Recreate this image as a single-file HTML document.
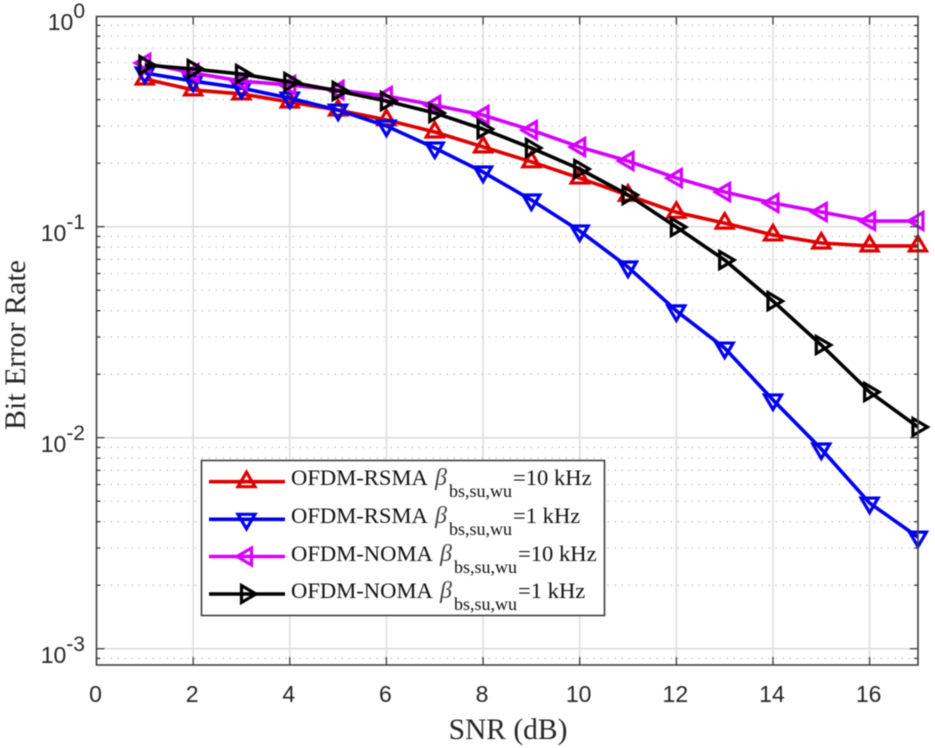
<!DOCTYPE html>
<html>
<head>
<meta charset="utf-8">
<title>Bit Error Rate vs SNR</title>
<style>
html,body{margin:0;padding:0;background:#fff;width:935px;height:748px;overflow:hidden}
svg{display:block;filter:blur(0.45px)}
.tick{font-family:"Liberation Sans",sans-serif;fill:#262626;font-size:23px}
.title{font-family:"Liberation Serif",serif;fill:#262626}
.leg{font-family:"Liberation Serif",serif;fill:#111;font-size:22.6px}
</style>
</head>
<body>
<svg id="chart" xmlns="http://www.w3.org/2000/svg" width="935" height="748" viewBox="0 0 935 748">
  <rect x="0" y="0" width="935" height="748" fill="#fff"/>
  <g id="grid"></g>
  <g id="series"></g>
  <g id="axes"></g>
  <text class="title" x="508" y="739" font-size="29.5" text-anchor="middle">SNR (dB)</text>
  <text class="title" transform="translate(25,345) rotate(-90)" font-size="30" text-anchor="middle">Bit Error Rate</text>
  <g id="legend">
    <rect x="201.5" y="460.5" width="403" height="155" fill="#fff" stroke="#333" stroke-width="1.5"/>
    <g id="legend-marks"></g>
    <text class="leg" y="485"><tspan x="291">OFDM-RSMA</tspan><tspan x="435" font-style="italic" font-size="24" fill="#444">β</tspan><tspan x="449" y="497" font-size="18">bs,su,wu</tspan><tspan x="513" y="485">=10 kHz</tspan></text>
    <text class="leg" y="523"><tspan x="291">OFDM-RSMA</tspan><tspan x="435" font-style="italic" font-size="24" fill="#444">β</tspan><tspan x="449" y="535" font-size="18">bs,su,wu</tspan><tspan x="513" y="523">=1 kHz</tspan></text>
    <text class="leg" y="561"><tspan x="291">OFDM-NOMA</tspan><tspan x="440" font-style="italic" font-size="24" fill="#444">β</tspan><tspan x="454" y="573" font-size="18">bs,su,wu</tspan><tspan x="518" y="561">=10 kHz</tspan></text>
    <text class="leg" y="598"><tspan x="291">OFDM-NOMA</tspan><tspan x="440" font-style="italic" font-size="24" fill="#444">β</tspan><tspan x="454" y="610" font-size="18">bs,su,wu</tspan><tspan x="518" y="598">=1 kHz</tspan></text>
  </g>
</svg>
<script>
const snr = [1,2,3,4,5,6,7,8,9,10,11,12,13,14,15,16,17];
const rsma10 = [0.501,0.445,0.426,0.390,0.357,0.321,0.281,0.239,0.203,0.170,0.141,0.117,0.104,0.0914,0.0837,0.0811,0.0811];
const rsma1 = [0.535,0.490,0.454,0.407,0.357,0.300,0.236,0.1816,0.1338,0.0955,0.0644,0.0399,0.0266,0.0151,0.00884,0.0049,0.00338];
const noma10 = [0.597,0.535,0.490,0.469,0.444,0.416,0.377,0.338,0.287,0.2385,0.2048,0.170,0.146,0.1295,0.1174,0.1064,0.1064];
const noma1 = [0.584,0.559,0.529,0.485,0.440,0.394,0.346,0.290,0.236,0.1877,0.1413,0.0997,0.0695,0.0444,0.0275,0.01647,0.01124];
const xTicks = [0,2,4,6,8,10,12,14,16];
const yExponents = [0,-1,-2,-3];

const NS = 'http://www.w3.org/2000/svg';
const L = 96.5, R = 918, T = 16.5, B = 665;
const X0 = 96.5, XS = 48.32, Y0 = 15.7, YS = 211;
function xs(v){ return X0 + v * XS; }
function ys(v){ return Y0 - Math.log10(v) * YS; }
function mk(tag, parent, attrs){
  const e = document.createElementNS(NS, tag);
  for (const k in attrs) e.setAttribute(k, attrs[k]);
  parent.appendChild(e);
  return e;
}
const grid = document.getElementById('grid');
const axes = document.getElementById('axes');
const seriesLayer = document.getElementById('series');
const legendMarks = document.getElementById('legend-marks');

// grid
for (const t of xTicks) {
  if (t === 0) continue;
  const g = mk('line', grid, {x1:xs(t), x2:xs(t), y1:T, y2:B, stroke:'#dedede', 'stroke-width':1.6});
  
  
}
for (const e of yExponents) {
  const py = ys(Math.pow(10, e));
  if (py >= T) {
    const g = mk('line', grid, {x1:L, x2:R, y1:py, y2:py, stroke:'#dedede', 'stroke-width':1.6});
    
    
  }
  for (let m = 2; m <= 9; m++) {
    const my = ys(m * Math.pow(10, e - 1));
    if (my > B || my < T) continue;
    const d = mk('line', grid, {x1:L, x2:R, y1:my, y2:my, stroke:'#c4c4c4', 'stroke-width':1.3, 'stroke-dasharray':'1.5 5.5'});
    
    
    for (const [a, b] of [[L, L + 4], [R - 4, R]]) {
      const t2 = mk('line', axes, {x1:a, x2:b, y1:my, y2:my, stroke:'#404040', 'stroke-width':1.3});
      
      
    }
  }
}

// markers
function markerPath(kind){
  const w = 8.5, a = 9.5, b = 5;
  if (kind === 'up') return `M0 ${-a}L${w} ${b}L${-w} ${b}Z`;
  if (kind === 'down') return `M0 ${a}L${w} ${-b}L${-w} ${-b}Z`;
  if (kind === 'left') return `M${-a} 0L${b} ${-w}L${b} ${w}Z`;
  return `M${a} 0L${-b} ${-w}L${-b} ${w}Z`;
}
const colors = ['#dd0000', '#0000ee', '#d400ff', '#000000'];
const kinds = ['up', 'down', 'left', 'right'];
const allSeries = [rsma10, rsma1, noma10, noma1];
const seriesNames = ['rsma-10khz', 'rsma-1khz', 'noma-10khz', 'noma-1khz'];
const legendY = [481.7, 519.3, 556.5, 594];

allSeries.forEach(function(vals, i){
  const g = mk('g', seriesLayer, {});
  
  
  const pts = vals.map(function(v, j){ return xs(snr[j]) + ',' + ys(v); }).join(' ');
  const line = mk('polyline', g, {points:pts, fill:'none', stroke:colors[i], 'stroke-width':3.6, 'stroke-linejoin':'round'});
  
  
  vals.forEach(function(v, j){
    const m = mk('path', g, {d:markerPath(kinds[i]), transform:'translate(' + xs(snr[j]) + ',' + ys(v) + ')', fill:'none', stroke:colors[i], 'stroke-width':3.2});
    
    
  });
  const ll = mk('line', legendMarks, {x1:209, x2:285, y1:legendY[i], y2:legendY[i], stroke:colors[i], 'stroke-width':3.6});
  
  
  const lm = mk('path', legendMarks, {d:markerPath(kinds[i]), transform:'translate(246.5,' + legendY[i] + ')', fill:'none', stroke:colors[i], 'stroke-width':3.2});
  
  
});

// axes box
const box = mk('rect', axes, {x:L, y:T, width:R - L, height:B - T, fill:'none', stroke:'#404040', 'stroke-width':1.6});



// x ticks
for (const t of xTicks) {
  const px = xs(t);
  for (const [a, b] of [[B - 8, B], [T, T + 8]]) {
    const tk = mk('line', axes, {x1:px, x2:px, y1:a, y2:b, stroke:'#404040', 'stroke-width':1.3});
    
    
  }
  const lb = mk('text', axes, {x:px - 1, y:702, 'text-anchor':'middle', class:'tick'});
  
  
  lb.textContent = String(t);
}

// y ticks
for (const e of yExponents) {
  const py = ys(Math.pow(10, e));
  if (py >= T) {
    for (const [a, b] of [[L, L + 8], [R - 8, R]]) {
      const tk = mk('line', axes, {x1:a, x2:b, y1:py, y2:py, stroke:'#404040', 'stroke-width':1.3});
      
      
    }
  }
  const lb = mk('text', axes, {x:85, y:py + 14.5, 'text-anchor':'end', class:'tick'});
  
  
  lb.appendChild(document.createTextNode('10'));
  const sup = mk('tspan', lb, {dy:-12, 'font-size':21});
  sup.textContent = String(e);
}
</script>
</body>
</html>
